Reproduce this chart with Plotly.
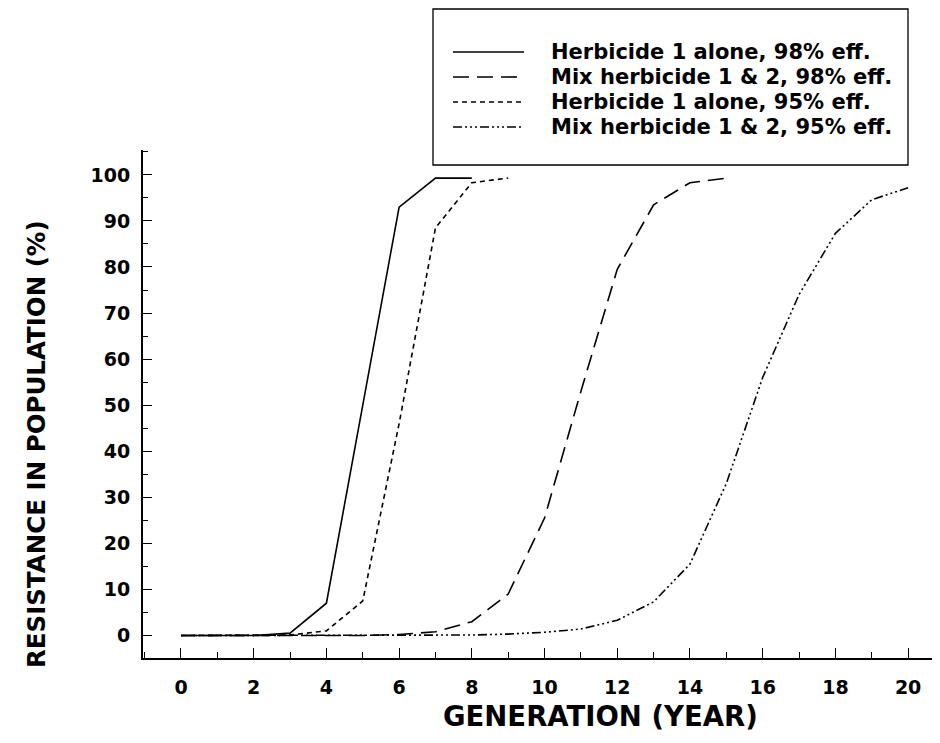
import plotly.graph_objects as go

# ---- data ----
series_names = [
    "Herbicide 1 alone, 98% eff.",
    "Mix herbicide 1 & 2, 98% eff.",
    "Herbicide 1 alone, 95% eff.",
    "Mix herbicide 1 & 2, 95% eff.",
]
gen_h1_98 = [0, 1, 2, 3, 4, 5, 6, 7, 8]
res_h1_98 = [0, 0, 0, 0.5, 7, 50, 93, 99.3, 99.3]

gen_mix_98 = list(range(0, 16))
res_mix_98 = [0, 0, 0, 0, 0, 0, 0.2, 0.8, 3, 9, 25.5, 53, 79.5, 93.5, 98.3, 99.3]

gen_h1_95 = list(range(0, 10))
res_h1_95 = [0, 0, 0, 0.1, 1, 7.5, 46, 88.5, 98.3, 99.3]

gen_mix_95 = list(range(0, 21))
res_mix_95 = [0, 0, 0, 0, 0, 0, 0, 0, 0.1, 0.3, 0.7, 1.4, 3.3, 7.3, 15.5, 33, 56, 74, 87.3, 94.6, 97.2]

x_ticks = [0, 2, 4, 6, 8, 10, 12, 14, 16, 18, 20]
y_ticks = [0, 10, 20, 30, 40, 50, 60, 70, 80, 90, 100]
x_title = "GENERATION (YEAR)"
y_title = "RESISTANCE IN POPULATION (%)"

# ---- styles ----
dashes = ["solid", "16px,8px", "5px,4px", "9px,3px,2px,3px,2px,3px,2px,3px"]
FONT = "DejaVu Sans"

fig = go.Figure()
xs = [gen_h1_98, gen_mix_98, gen_h1_95, gen_mix_95]
ys = [res_h1_98, res_mix_98, res_h1_95, res_mix_95]
for name, x, y, d in zip(series_names, xs, ys, dashes):
    fig.add_trace(go.Scatter(x=x, y=y, mode="lines", name=name, showlegend=False,
                             line=dict(color="black", width=1.6, dash=d)))

# target pixel geometry in the 940x743 window (page has an 8px body margin)
OFF = 8
L, R, T, B = 143, 935, 150, 658
W, H = 940, 743


def px(xp):
    return (xp - L) / (R - L)


def py(yp):
    return (B - yp) / (B - T)


# manual legend box (wide line samples as in the reference)
fig.add_shape(type="rect", xref="paper", yref="paper",
              x0=px(433), x1=px(908), y0=py(165), y1=py(9),
              line=dict(color="black", width=1.3), fillcolor="white", layer="above")
row_y = [52, 77, 102, 127]
for name, d, ry in zip(series_names, dashes, row_y):
    fig.add_shape(type="line", xref="paper", yref="paper",
                  x0=px(453), x1=px(524), y0=py(ry), y1=py(ry),
                  line=dict(color="black", width=1.6, dash=d), layer="above")
    fig.add_annotation(xref="paper", yref="paper", x=px(549), y=py(ry),
                       text=name, showarrow=False, xanchor="left", yanchor="middle",
                       font=dict(family=FONT, size=21, color="black", weight="bold"))

# axis titles (placed off-centre as in the reference)
fig.add_annotation(xref="paper", yref="paper", x=px(600), y=py(716),
                   text=x_title, showarrow=False, xanchor="center", yanchor="middle",
                   font=dict(family=FONT, size=27.5, color="black", weight="bold"))
fig.add_annotation(xref="paper", yref="paper", x=px(36), y=py(444),
                   text=y_title, showarrow=False, xanchor="center", yanchor="middle",
                   textangle=-90,
                   font=dict(family=FONT, size=24.5, color="black", weight="bold"))

fig.update_layout(
    width=W - OFF, height=H - OFF,
    margin=dict(l=L - OFF, r=W - R, t=T - OFF, b=H - B),
    paper_bgcolor="white", plot_bgcolor="white",
    font=dict(family=FONT, color="black"),
)
fig.update_xaxes(
    range=[-1.045, 20.74], showgrid=False, zeroline=False,
    showline=True, linecolor="black", linewidth=2,
    tickmode="array", tickvals=x_ticks, ticktext=[str(v) for v in x_ticks],
    ticks="inside", ticklen=10, tickwidth=1.3, tickcolor="black",
    minor=dict(dtick=1, tick0=0, ticks="inside", ticklen=6, tickwidth=1.3, tickcolor="black"),
    tickfont=dict(family=FONT, size=19, color="black", weight="bold"),
    ticklabelstandoff=11,
)
fig.update_yaxes(
    range=[-4.89, 105.4], showgrid=False, zeroline=False,
    showline=True, linecolor="black", linewidth=2,
    tickmode="array", tickvals=y_ticks, ticktext=[str(v) for v in y_ticks],
    ticks="inside", ticklen=9, tickwidth=1.3, tickcolor="black",
    minor=dict(dtick=5, tick0=0, ticks="inside", ticklen=5, tickwidth=1.3, tickcolor="black"),
    tickfont=dict(family=FONT, size=19, color="black", weight="bold"),
    ticklabelstandoff=7,
)

fig.write_html("out.html")
